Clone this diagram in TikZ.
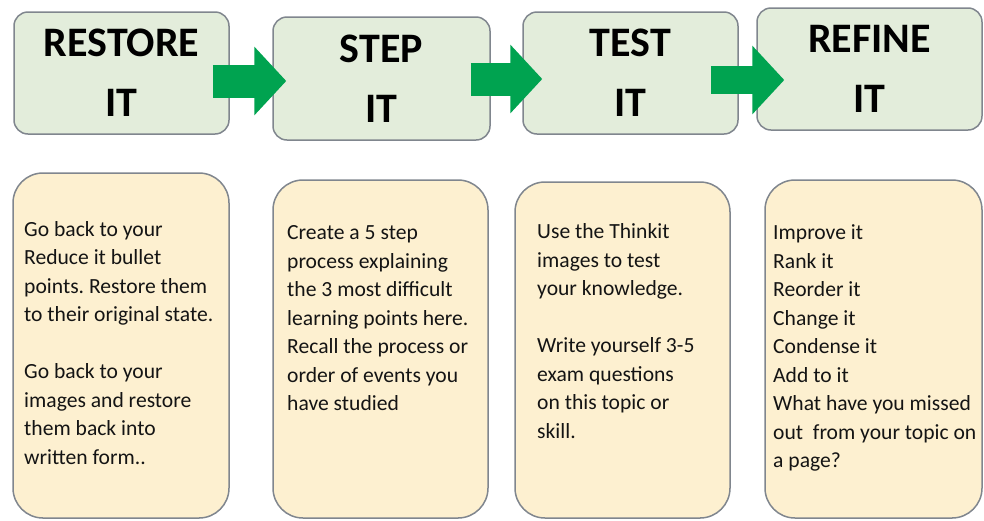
\documentclass[tikz,border=0pt]{standalone}
\usepackage{fontspec}
\setmainfont{Carlito}
\frenchspacing
\usetikzlibrary{arrows.meta}

\definecolor{headfill}{RGB}{227,237,219}
\definecolor{notefill}{RGB}{253,240,208}
\definecolor{boxline}{RGB}{128,134,142}
\definecolor{flowgreen}{RGB}{0,163,80}

\tikzset{
  headbox/.style={draw=boxline, line width=1.5pt, fill=headfill, rounded corners=14pt,
    inner sep=0pt, align=center, text=black, font={\fontsize{42}{60}\selectfont\bfseries}},
  notebox/.style={draw=boxline, line width=1.5pt, fill=notefill, rounded corners=30pt, inner sep=0pt},
  notetext/.style={anchor=north west, align=left, inner sep=0pt, text=black!92,
    font={\fontsize{21.6}{28.5}\selectfont}},
  flowarrow/.style={draw=flowgreen, line width=33pt, -{Triangle[length=32pt,width=67pt]}}
}

\begin{document}
\begin{tikzpicture}[x=1pt, y=-1pt]
    \fill[white] (0,0) rectangle (984,520);
    \useasboundingbox (0,0) rectangle (984,520);

    % headings
    \node[headbox, minimum width=215pt, minimum height=122pt] (restore) at (121.5,73) {RESTORE\\IT};
    \node[headbox, minimum width=217pt, minimum height=123pt] (step) at (381.5,78.5) {STEP\\IT};
    \node[headbox, minimum width=215pt, minimum height=122pt] (test) at (630.5,73) {TEST\\IT};
    \node[headbox, minimum width=225pt, minimum height=122pt] (refine) at (869.5,69) {REFINE\\IT};

    % arrows between the headings
    \draw[flowarrow, shorten <=-17pt, shorten >=-14pt] ([yshift=-8pt]restore.east) -- ([yshift=-2.5pt]step.west);
    \draw[flowarrow, shorten <=-20pt, shorten >=-20pt] ([yshift=-0.5pt]step.east) -- ([yshift=-6pt]test.west);
    \draw[flowarrow, line width=28pt, shorten <=-28pt, shorten >=-28pt] ([yshift=-7pt]test.east) -- ([yshift=-11pt]refine.west);

    % note boxes
    \node[notebox, minimum width=216pt, minimum height=345pt] (restorenote) at (121,345.5) {};
    \node[notebox, minimum width=215pt, minimum height=338pt] (stepnote) at (380.5,349) {};
    \node[notebox, minimum width=215pt, minimum height=336pt] (testnote) at (622.5,350) {};
    \node[notebox, minimum width=217pt, minimum height=338pt] (refinenote) at (873.5,349) {};

    \node[notetext] (restoretext) at (24,221) {Go back to your\\Reduce it bullet\\points. Restore them\\to their original state.\\[28.5pt]
        Go back to your\\images and restore\\them back into\\written form..};
    \node[notetext] (steptext) at (287,225.5) {Create a 5 step\\process explaining\\the 3 most difficult\\learning points here.\\
        Recall the process or\\order of events you\\have studied};
    \node[notetext] (testtext) at (537,223.5) {Use the Thinkit\\images to test\\your knowledge.\\[28.5pt]
        Write yourself 3-5\\exam questions\\on this topic or\\skill.};
    \node[notetext] (refinetext) at (773,224.5) {Improve it\\Rank it\\Reorder it\\Change it\\Condense it\\Add to it\\
        What have you missed\\out~ from your topic on\\a page?};
\end{tikzpicture}
\end{document}
